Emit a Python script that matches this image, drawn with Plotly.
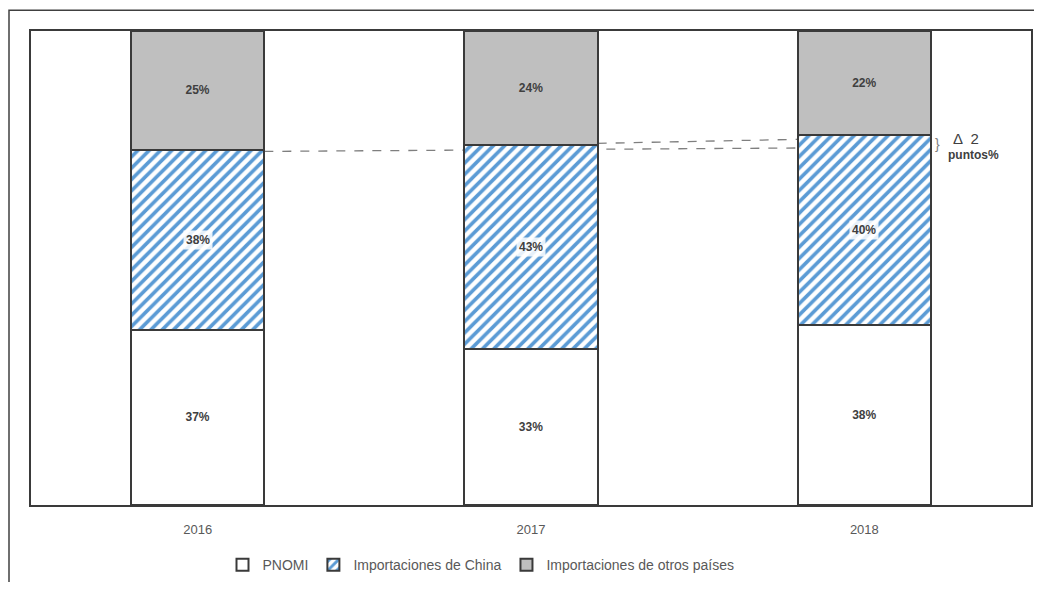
import plotly.graph_objects as go

years = ["2016", "2017", "2018"]
pnomi = [37, 33, 38]
china = [38, 43, 40]
otros = [25, 24, 22]
series_names = ["PNOMI", "Importaciones de China", "Importaciones de otros países"]

edge = "#3a3a3a"
txt = "#404040"
bar_w = 0.4
xi = list(range(len(years)))

fig = go.Figure()
fig.add_trace(go.Bar(
    x=xi, y=pnomi, name=series_names[0], width=bar_w,
    marker=dict(color="white", line=dict(color=edge, width=2)),
    text=[f"{v}%" for v in pnomi], textposition="inside", insidetextanchor="middle",
    textfont=dict(family="Liberation Sans", size=12, color=txt, weight="bold"),
))
fig.add_trace(go.Bar(
    x=xi, y=china, name=series_names[1], width=bar_w,
    marker=dict(color="white", line=dict(color=edge, width=2),
                pattern=dict(shape="/", fgcolor="#5b9bd5", fgopacity=1, bgcolor="white",
                             size=8, solidity=0.45)),
))
fig.add_trace(go.Bar(
    x=xi, y=otros, name=series_names[2], width=bar_w,
    marker=dict(color="#bfbfbf", line=dict(color=edge, width=2)),
    text=[f"{v}%" for v in otros], textposition="inside", insidetextanchor="middle",
    textfont=dict(family="Liberation Sans", size=12, color=txt, weight="bold"),
))

# China labels with light background (over hatching)
for i in xi:
    fig.add_annotation(x=i, y=pnomi[i] + china[i] / 2, text=f"<b>{china[i]}%</b>",
                       showarrow=False, bgcolor="rgba(255,255,255,0.85)",
                       font=dict(family="Liberation Sans", size=12, color=txt), borderpad=2)

# dashed reference lines
top = [p + c for p, c in zip(pnomi, china)]
fig.add_shape(type="line", xref="x", yref="y", x0=0 + bar_w / 2, x1=2 + bar_w / 2,
              y0=top[0] - 0.4, y1=top[0] + 0.5, layer="below",
              line=dict(color="#7f7f7f", width=1.3, dash="dash"))
fig.add_shape(type="line", xref="x", yref="y", x0=1 + bar_w / 2, x1=2 + bar_w / 2,
              y0=top[1] + 0.3, y1=top[2] - 0.3, layer="below",
              line=dict(color="#7f7f7f", width=1.3, dash="dash"))
fig.add_annotation(x=2 + bar_w / 2, y=top[0] + 1.2, xanchor="left", yanchor="middle", text="}",
                   showarrow=False, xshift=2,
                   font=dict(family="Liberation Sans", size=14, color="#808080"))
fig.add_annotation(x=2 + bar_w / 2, y=top[2] - 0.6, xanchor="left", yanchor="middle",
                   text="Δ  2", showarrow=False, xshift=20,
                   font=dict(family="Liberation Sans", size=15, color="#404040"))
fig.add_annotation(x=2 + bar_w / 2, y=top[2] - 4.2, xanchor="left", yanchor="middle",
                   text="<b>puntos%</b>", showarrow=False, xshift=15,
                   font=dict(family="Liberation Sans", size=12, color="#404040"))

# outer frame
fig.add_shape(type="rect", xref="paper", yref="paper", x0=-0.022, x1=1.2, y0=-0.5, y1=1.044,
              line=dict(color="#404040", width=1.5), layer="below")

fig.update_layout(
    barmode="stack",
    width=1026, height=574,
    margin=dict(l=23, r=1, t=23, b=74),
    plot_bgcolor="white", paper_bgcolor="white",
    showlegend=True,
    legend=dict(orientation="h", traceorder="normal", x=0.45, xanchor="center",
                y=-0.127, yanchor="middle",
                font=dict(family="Liberation Sans", size=14, color="#595959"),
                itemwidth=30, tracegroupgap=0),
    xaxis=dict(type="linear", range=[-0.5, 2.5], tickmode="array", tickvals=xi, ticktext=years,
               showline=True, mirror=True, linecolor=edge, linewidth=1.5,
               ticks="", ticklabelstandoff=12,
               tickfont=dict(family="Liberation Sans", size=13, color="#595959"),
               showgrid=False, zeroline=False),
    yaxis=dict(range=[0, 100], showline=True, mirror=True, linecolor=edge, linewidth=1.5,
               showticklabels=False, ticks="", showgrid=False, zeroline=False),
)

fig.write_html("out.html")
